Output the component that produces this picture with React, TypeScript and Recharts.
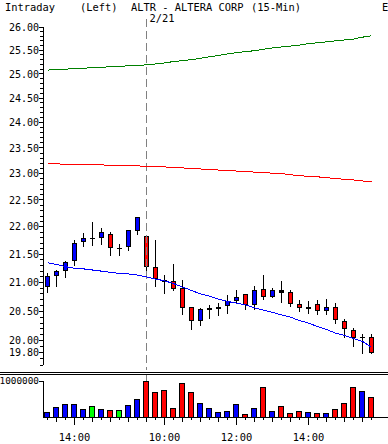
import React from 'react';
import { ComposedChart, BarChart, Bar, Line, XAxis, YAxis, ReferenceLine } from 'recharts';

// ---- data ----
const dates = ['2/20','2/20','2/20','2/20','2/20','2/20','2/20','2/20','2/20','2/20','2/20',
  '2/21','2/21','2/21','2/21','2/21','2/21','2/21','2/21','2/21','2/21','2/21','2/21','2/21',
  '2/21','2/21','2/21','2/21','2/21','2/21','2/21','2/21','2/21','2/21','2/21','2/21','2/21'];
const times = ['13:15','13:30','13:45','14:00','14:15','14:30','14:45','15:00','15:15','15:30','15:45',
  '09:30','09:45','10:00','10:15','10:30','10:45','11:00','11:15','11:30','11:45','12:00','12:15','12:30',
  '12:45','13:00','13:15','13:30','13:45','14:00','14:15','14:30','14:45','15:00','15:15','15:30','15:45'];
const opens = [20.94,21.13,21.22,21.39,21.74,21.80,21.82,21.86,21.62,21.65,21.94,
  21.84,21.27,21.05,21.03,20.91,20.57,20.35,20.54,20.56,20.61,20.69,20.79,20.62,
  20.88,20.77,20.87,20.84,20.63,20.56,20.62,20.53,20.57,20.34,20.18,20.06,20.07];
const highs = [21.17,21.22,21.38,21.75,21.89,22.08,21.98,21.91,21.69,21.95,22.19,
  21.85,21.76,21.13,21.33,21.05,20.58,20.56,20.60,20.65,20.78,20.86,20.80,20.93,
  21.13,20.90,21.03,20.87,20.70,20.68,20.70,20.72,20.64,20.37,20.21,20.11,20.11];
const lows = [20.84,20.94,21.10,21.31,21.65,21.67,21.68,21.49,21.49,21.57,21.86,
  21.21,20.94,20.82,20.86,20.45,20.20,20.26,20.38,20.43,20.47,20.66,20.54,20.54,
  20.71,20.74,20.66,20.59,20.50,20.47,20.45,20.45,20.30,20.07,19.91,19.80,19.79];
const closes = [21.12,21.21,21.36,21.71,21.79,21.80,21.91,21.63,21.62,21.95,22.18,
  21.30,21.08,21.03,20.91,20.58,20.35,20.54,20.56,20.57,20.68,20.75,20.63,20.86,
  20.77,20.86,20.84,20.64,20.57,20.57,20.53,20.57,20.36,20.22,20.07,20.07,19.81];
const upperBand = [25.08,25.09,25.10,25.11,25.12,25.13,25.14,25.15,25.16,25.17,25.18,
  25.19,25.21,25.23,25.26,25.28,25.30,25.33,25.36,25.39,25.42,25.45,25.47,25.49,
  25.52,25.55,25.57,25.59,25.61,25.64,25.66,25.68,25.70,25.72,25.74,25.78,25.81];
const lowerBand = [23.19,23.19,23.18,23.18,23.18,23.17,23.17,23.16,23.16,23.15,23.15,
  23.14,23.14,23.13,23.12,23.11,23.10,23.09,23.08,23.07,23.06,23.05,23.04,23.03,
  23.02,23.01,23.00,22.98,22.96,22.95,22.94,22.92,22.91,22.89,22.88,22.86,22.84];
const movingAvg = [21.35,21.32,21.28,21.25,21.24,21.22,21.20,21.18,21.16,21.15,21.13,
  21.10,21.06,21.03,20.98,20.92,20.86,20.80,20.76,20.71,20.67,20.64,20.61,20.56,
  20.52,20.48,20.44,20.40,20.34,20.30,20.24,20.19,20.13,20.09,20.04,19.99,19.89];
const volumes = [134000,268000,348000,375000,214000,295000,214000,188000,188000,321000,509000,
  1010000,696000,750000,241000,938000,696000,402000,241000,134000,161000,348000,80000,241000,
  830000,161000,295000,107000,161000,134000,107000,107000,214000,402000,830000,723000,563000];

const priceLabels = [26, 25.5, 25, 24.5, 24, 23.5, 23, 22.5, 22, 21.5, 21, 20.5, 20, 19.8];
const priceDomain = [19.6, 26];
const volumeLabels = [1000000];
const timeLabels = ['10:00', '12:00', '14:00'];
const separatorKey = '2/21 09:30';

const data = times.map((t, i) => ({
  key: `${dates[i]} ${t}`,
  time: t,
  open: opens[i], high: highs[i], low: lows[i], close: closes[i],
  upper: upperBand[i], lower: lowerBand[i], ma: movingAvg[i], vol: volumes[i],
}));

const minorTicks = Array.from({ length: 65 }, (_, k) => Math.round(196 + k) / 10);
const priceTicks = Array.from(new Set([...minorTicks, ...priceLabels])).sort((a, b) => a - b);

const FONT = '"DejaVu Sans Mono", monospace';
const RED = '#ff0000';
const BLUE = '#0000ff';
const LGREEN = '#00ff00';

const candleColor = (o: number, c: number) => (c > o ? BLUE : c < o ? RED : LGREEN);

const PriceTick = (props: any) => {
  const { x, y, payload } = props;
  const v = payload.value;
  const major = priceLabels.some((m) => Math.abs(m - v) < 1e-6);
  return (
    <g>
      <line x1={x - (major ? 4 : 3)} x2={x} y1={y} y2={y} stroke="#000" />
      {major && (
        <text x={x - 4} y={y} dy="0.36em" textAnchor="end" fontFamily={FONT} fontSize={10} fill="#000">
          {v.toFixed(2)}
        </text>
      )}
    </g>
  );
};

const VolTick = (props: any) => {
  const { x, y, payload } = props;
  return (
    <g>
      <line x1={x - 4} x2={x} y1={y} y2={y} stroke="#000" />
      <text x={x - 4} y={y} dy="0.36em" textAnchor="end" fontFamily={FONT} fontSize={9.4} fill="#000">
        {String(payload.value)}
      </text>
    </g>
  );
};

const TimeTick = (props: any) => {
  const { x, y, payload } = props;
  const t = String(payload.value).split(' ')[1] || '';
  const labeled = timeLabels.includes(t);
  const mm = t.slice(3);
  const len = labeled ? 8 : mm === '00' || mm === '30' ? 5 : 3;
  return (
    <g>
      <line x1={x} x2={x} y1={y} y2={y + len} stroke="#000" />
      {labeled && (
        <text x={x} y={y + 24} textAnchor="middle" fontFamily={FONT} fontSize={10.4} fill="#000">
          {t}
        </text>
      )}
    </g>
  );
};

const CandleShape = (props: any) => {
  const { x, y, width, height, payload } = props;
  if (x == null || y == null || !payload) return null;
  const top = Math.min(y, y + height);
  const bot = Math.max(y, y + height);
  const lh = Math.log(payload.high);
  const ll = Math.log(payload.low);
  const toY = (v: number) => top + ((lh - Math.log(v)) / (lh - ll)) * (bot - top);
  const cx = Math.floor(x + width / 2) + 0.5;
  const yo = toY(payload.open);
  const yc = toY(payload.close);
  const bTop = Math.round(Math.min(yo, yc));
  const bBot = Math.round(Math.max(yo, yc));
  const diff = bBot - bTop;
  const col = candleColor(payload.open, payload.close);
  let body;
  if (diff < 1) {
    body = <line x1={cx - 2.5} x2={cx + 2.5} y1={bTop + 0.5} y2={bTop + 0.5} stroke="#000" />;
  } else if (diff < 3) {
    body = <rect x={cx - 2.5} y={bTop} width={5} height={diff + 1} fill="#000" />;
  } else {
    body = <rect x={cx - 2} y={bTop + 0.5} width={4} height={diff} fill={col} stroke="#000" />;
  }
  return (
    <g>
      <line x1={cx} x2={cx} y1={Math.round(top)} y2={Math.round(bot) + 1} stroke="#000" />
      {body}
    </g>
  );
};

const VolShape = (props: any) => {
  const { x, y, width, height, payload } = props;
  if (x == null || y == null || !payload) return null;
  const cx = Math.floor(x + width / 2) + 0.5;
  const top = Math.round(y) + 0.5;
  const bot = Math.round(y + height);
  return (
    <rect x={cx - 3} y={top} width={5} height={Math.max(0, bot - top)} fill={candleColor(payload.open, payload.close)} stroke="#000" />
  );
};

const SepLabel = (props: any) => {
  const vb = props.viewBox || {};
  const lx = vb.x ?? vb.x1 ?? 0;
  return (
    <text x={lx + 3} y={22} fontFamily={FONT} fontSize={10.4} fill="#000">2/21</text>
  );
};

export default function App() {
  return (
    <div style={{ position: 'absolute', left: 0, top: 0, width: 388, height: 444, background: '#fff', overflow: 'hidden' }}>
      <style>{'svg line, svg rect, svg path { shape-rendering: crispEdges; }'}</style>
      <div style={{ position: 'absolute', left: 0, top: 0 }}>
        <BarChart width={388} height={444} data={data} margin={{ top: 381, right: 0, bottom: 0, left: 0 }} barCategoryGap={0}>
          <XAxis dataKey="key" interval={0} tickSize={0} tickMargin={0} tickLine={false} tick={<TimeTick />}
            axisLine={{ stroke: '#000' }} height={27} padding={{ left: 0, right: 12 }} />
          <YAxis domain={[0, 1000000]} allowDataOverflow ticks={volumeLabels} interval={0} tickSize={0} tickMargin={0}
            tickLine={false} tick={<VolTick />} axisLine={{ stroke: '#000' }} width={43} />
          <ReferenceLine segment={[{ x: separatorKey, y: 1170000 }, { x: separatorKey, y: 1000000 }]} ifOverflow="visible"
            stroke="#808080" strokeDasharray="8 4" />
          <Bar dataKey="vol" shape={<VolShape />} isAnimationActive={false} />
        </BarChart>
      </div>
      <div style={{ position: 'absolute', left: 0, top: 0 }}>
        <ComposedChart width={388} height={372} data={data} margin={{ top: 27, right: 0, bottom: 7, left: 0 }} barCategoryGap={0}>
          <XAxis dataKey="key" hide padding={{ left: 0, right: 12 }} />
          <YAxis scale="log" domain={priceDomain} allowDataOverflow ticks={priceTicks} interval={0} tickSize={0} tickMargin={0}
            tickLine={false} tick={<PriceTick />} axisLine={{ stroke: '#000' }} width={43} />
          <ReferenceLine segment={[{ x: separatorKey, y: 26.17 }, { x: separatorKey, y: 19.52 }]} ifOverflow="visible"
            stroke="#808080" strokeDasharray="8 4" label={SepLabel} />
          <Line dataKey="upper" type="linear" stroke="#008000" strokeWidth={1} dot={false} isAnimationActive={false} />
          <Line dataKey="lower" type="linear" stroke={RED} strokeWidth={1} dot={false} isAnimationActive={false} />
          <Bar dataKey={(d: any) => [d.low, d.high]} barSize={5} shape={<CandleShape />} isAnimationActive={false} />
          <Line dataKey="ma" type="linear" stroke={BLUE} strokeWidth={1} dot={false} isAnimationActive={false} />
        </ComposedChart>
      </div>
      <svg width={388} height={444} style={{ position: 'absolute', left: 0, top: 0, pointerEvents: 'none' }}>
        <text x={5} y={11} fontFamily={FONT} fontSize={10.4} fill="#000">Intraday</text>
        <text x={80} y={11} fontFamily={FONT} fontSize={10.4} fill="#000">(Left)</text>
        <text x={131} y={11} fontFamily={FONT} fontSize={10.4} fill="#000">ALTR - ALTERA CORP</text>
        <text x={251} y={11} fontFamily={FONT} fontSize={10.4} fill="#000">(15-Min)</text>
        <text x={382} y={11} fontFamily={FONT} fontSize={10.4} fill="#000">E</text>
        <line x1={0} x2={388} y1={372.5} y2={372.5} stroke="#000" />
        <line x1={0} x2={388} y1={374.5} y2={374.5} stroke="#000" />
      </svg>
    </div>
  );
}
